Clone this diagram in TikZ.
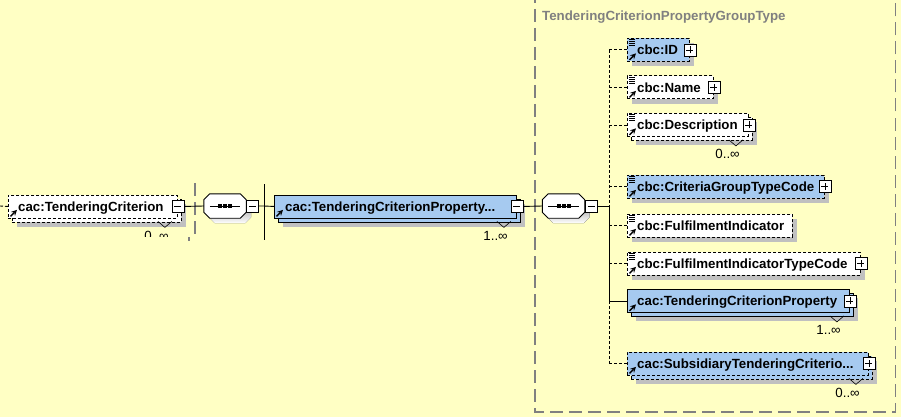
\documentclass[tikz,border=0pt]{standalone}
\usepackage{fontspec}
\setmainfont{Liberation Sans}
\usetikzlibrary{shadows}

\definecolor{paper}{RGB}{255,255,196}
\definecolor{typeblue}{RGB}{166,202,240}
\definecolor{shade}{RGB}{192,192,192}
\definecolor{groupgray}{RGB}{128,128,128}

\providecommand{\refmark}[1]{%
  \draw[refarrow] ([xshift=2.5pt,yshift=2pt]#1.south west) -- ++(6.5,-6.5);}
\providecommand{\typemark}[1]{%
  \foreach \k in {0,...,3}
    \draw[line width=0.9pt] ([xshift=2pt,yshift=-1.5pt-\k*2pt]#1.north west) -- ++(6,0);}
\providecommand{\multmark}[3]{%
  \draw[notch] ([xshift=-20pt,yshift=-3pt]#1.south east) -- ++(7,6) -- ++(7,-6);
  \node[multlbl] (#2) at ([xshift=-9pt,yshift=-17pt]#1.south east) {#3};}
% octagon of a sequence compositor, drawn round a named node
\providecommand{\octagon}[1]{%
  ([xshift=6pt]#1.north west) -- ([xshift=-6pt]#1.north east)
  -- ([yshift=-6pt]#1.north east) -- ([yshift=6pt]#1.south east)
  -- ([xshift=-6pt]#1.south east) -- ([xshift=6pt]#1.south west)
  -- ([yshift=6pt]#1.south west) -- ([yshift=-6pt]#1.north west) -- cycle}
\providecommand{\seqmark}[1]{%
  \fill[shade, transform canvas={shift={(5pt,-5pt)}}] \octagon{#1};
  \filldraw[fill=white, line width=0.9pt] \octagon{#1};
  \draw[line width=0.9pt] ([xshift=6pt]#1.west) -- ([xshift=-6pt]#1.east);
  \foreach \d in {-5,0,5}
    \fill ([xshift=\d pt-2pt,yshift=-2pt]#1.center) rectangle ++(4,-4);}

\begin{document}
\begin{tikzpicture}[x=1pt,y=-1pt]
\tikzset{
  elem/.style = {rectangle, draw, anchor=north west, minimum height=23pt,
                 inner sep=0pt, line width=0.9pt},
  opt/.style = {dash pattern=on 3pt off 2pt},
  single/.style = {fill=#1, drop shadow={shadow xshift=5pt, shadow yshift=-5pt,
                   fill=shade, opacity=1}},
  many/.style = {fill=#1, drop shadow={shadow xshift=9pt, shadow yshift=-9pt,
                 fill=shade, opacity=1},
                 general shadow={shadow xshift=4pt, shadow yshift=-4pt, draw, fill=#1}},
  lbl/.style = {anchor=west, inner sep=0pt, text height=9.6pt, text depth=0pt,
                font=\bfseries\fontsize{13.3}{15}\selectfont},
  multlbl/.style = {anchor=east, inner sep=0pt, text height=9.6pt, text depth=0pt,
                    font=\fontsize{13.3}{15}\selectfont},
  btn/.style = {rectangle, draw, fill=white, minimum size=12pt, inner sep=0pt,
                line width=0.8pt},
  minus/.style = {btn, path picture={
      \draw[line width=0.8pt] ([xshift=2.5pt]path picture bounding box.west)
        -- ([xshift=-2.5pt]path picture bounding box.east);}},
  plus/.style = {btn, path picture={
      \draw[line width=0.8pt] ([xshift=2.5pt]path picture bounding box.west)
        -- ([xshift=-2.5pt]path picture bounding box.east);
      \draw[line width=0.8pt] ([yshift=2.5pt]path picture bounding box.south)
        -- ([yshift=-2.5pt]path picture bounding box.north);}},
  seq/.style = {rectangle, minimum width=42pt, minimum height=24pt, inner sep=0pt},
  link/.style = {line width=0.9pt},
  optlink/.style = {line width=0.9pt, dash pattern=on 3pt off 2pt},
  grouprule/.style = {draw=groupgray, line width=1.2pt, dash pattern=on 13pt off 6pt},
  refarrow/.style = {-stealth, line width=1.5pt},
  notch/.style = {line width=0.6pt},
}

\useasboundingbox (0,0) rectangle (901,417);
\fill[paper] (0,0) rectangle (901,417);

% group boxes
\draw[grouprule] (535,-10) rectangle (895.5,412);
\node[lbl, text=groupgray] (grp-t) at (542,15.5) {TenderingCriterionPropertyGroupType};
\draw[grouprule] (195,183) -- (195,236);
\draw[grouprule] (189,237) -- (189,241);

% the element itself
\node[elem, opt, many=white, minimum width=169pt] (tc) at (8,194.5) {};
\node[lbl] (tc-t) at ([xshift=10pt]tc.west) {cac:TenderingCriterion};
\node[minus] (tc-b) at (tc.east) {};
\refmark{tc}
\begin{scope}
  \clip (0,0) rectangle (260,236.5);
  \multmark{tc}{tc-m}{0..∞}
\end{scope}
\coordinate (tc-in) at (0,206);
\draw[optlink] (tc-in) -- (tc.west);

% first sequence
\node[seq] (seqa) at (225,206) {};
\seqmark{seqa}
\node[minus, anchor=west] (seqa-b) at (seqa.east) {};
\coordinate (bara) at (264,206);
\draw[link] ([yshift=22pt]bara) -- ([yshift=-34pt]bara);

\node[elem, many=typeblue, minimum width=242pt] (tcp) at (274,194.5) {};
\node[lbl] (tcp-t) at ([xshift=11pt]tcp.west) {cac:TenderingCriterionProperty...};
\node[minus] (tcp-b) at (tcp.east) {};
\refmark{tcp}
\multmark{tcp}{tcp-m}{1..∞}

\draw[link] (tc-b.east) -- (seqa.west);
\draw[link] (seqa-b.east) -- (bara) -- (tcp.west);

% second sequence
\node[seq] (seqb) at (563.5,206) {};
\seqmark{seqb}
\node[minus, anchor=west] (seqb-b) at (seqb.east) {};
\coordinate (barb) at (609,206);
\draw[link] (tcp-b.east) -- (seqb.west);
\draw[link] (seqb-b.east) -- (barb);

% children
\node[elem, opt, single=typeblue, minimum width=62pt] (id) at (627,38) {};
\node[lbl] (id-t) at ([xshift=10pt]id.west) {cbc:ID};
\node[plus] (id-b) at (id.east) {};

\node[elem, opt, single=white, minimum width=86pt] (name) at (627,75.5) {};
\node[lbl] (name-t) at ([xshift=10pt]name.west) {cbc:Name};
\node[plus] (name-b) at (name.east) {};

\node[elem, opt, many=white, minimum width=121pt] (desc) at (627,113) {};
\node[lbl] (desc-t) at ([xshift=10pt]desc.west) {cbc:Description};
\node[plus] (desc-b) at (desc.east) {};
\multmark{desc}{desc-m}{0..∞}

\node[elem, opt, single=typeblue, minimum width=197pt] (crit) at (627,174.5) {};
\node[lbl] (crit-t) at ([xshift=10pt]crit.west) {cbc:CriteriaGroupTypeCode};
\node[plus] (crit-b) at (crit.east) {};

\node[elem, opt, single=white, minimum width=165pt] (ful) at (627,213.5) {};
\node[lbl] (ful-t) at ([xshift=10pt]ful.west) {cbc:FulfilmentIndicator};

\node[elem, opt, single=white, minimum width=233pt] (fultc) at (627,251.5) {};
\node[lbl] (fultc-t) at ([xshift=10pt]fultc.west) {cbc:FulfilmentIndicatorTypeCode};
\node[plus] (fultc-b) at (fultc.east) {};

\node[elem, many=typeblue, minimum width=222pt] (prop) at (627,289) {};
\node[lbl] (prop-t) at ([xshift=10pt]prop.west) {cac:TenderingCriterionProperty};
\node[plus] (prop-b) at (prop.east) {};
\multmark{prop}{prop-m}{1..∞}

\node[elem, opt, many=typeblue, minimum width=241pt] (sub) at (627,351.5) {};
\node[lbl] (sub-t) at ([xshift=10pt]sub.west) {cac:SubsidiaryTenderingCriterio...};
\node[plus] (sub-b) at (sub.east) {};
\multmark{sub}{sub-m}{0..∞}

\foreach \n in {id,name,desc,crit,ful,fultc}
  {\typemark{\n}}
\foreach \n in {id,name,desc,crit,ful,fultc,prop,sub}
  {\refmark{\n}}

% branches
\draw[optlink] (barb |- id.west) -- (barb);
\draw[link] (barb) -- (barb |- prop.west);
\draw[optlink] (barb |- prop.west) -- (barb |- sub.west);
\foreach \n in {id,name,desc,crit,ful,fultc,sub}
  \draw[optlink] (barb |- \n.west) -- (\n.west);
\draw[link] (barb |- prop.west) -- (prop.west);

\end{tikzpicture}
\end{document}
